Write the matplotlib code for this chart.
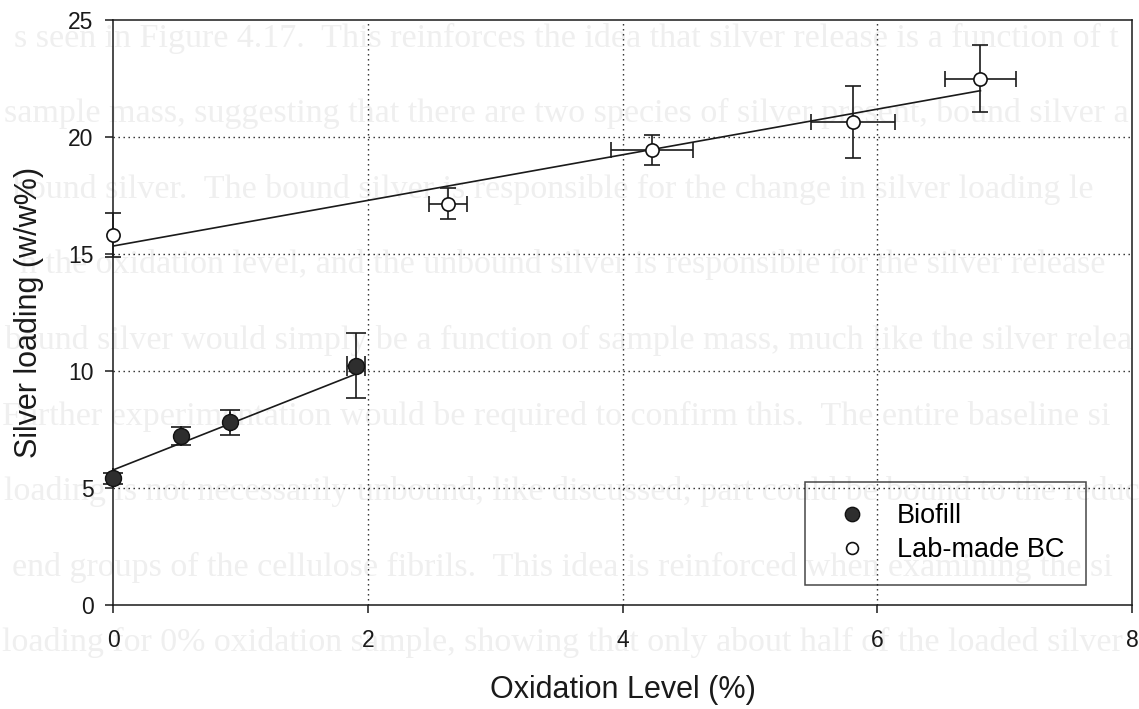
import numpy as np
import matplotlib
matplotlib.use('Agg')
import matplotlib.pyplot as plt

# Biofill (filled circles)
bio_x = [0.0, 0.53, 0.92, 1.91]
bio_y = [5.41, 7.22, 7.81, 10.23]
bio_yerr = [0.25, 0.38, 0.53, 1.39]
bio_xerr = [0.0, 0.0, 0.0, 0.07]
bio_fit = (2.15, 5.77)  # slope, intercept

# Lab-made BC (open circles)
lab_x = [0.0, 2.63, 4.23, 5.81, 6.81]
lab_y = [15.81, 17.14, 19.44, 20.63, 22.50]
lab_yerr = [0.95, 0.66, 0.63, 1.53, 1.42]
lab_xerr = [0.0, 0.15, 0.32, 0.33, 0.28]
lab_fit = (0.975, 15.34)

xticks = [0, 2, 4, 6, 8]
yticks = [0, 5, 10, 15, 20, 25]

# faint text showing through from the other side of the scanned page
ghost_lines = [
    "s seen in Figure 4.17.  This reinforces the idea that silver release is a function of t",
    "sample mass, suggesting that there are two species of silver present, bound silver a",
    "bound silver.  The bound silver is responsible for the change in silver loading le",
    "h the oxidation level, and the unbound silver is responsible for the silver release",
    "bound silver would simply be a function of sample mass, much like the silver relea",
    "Further experimentation would be required to confirm this.  The entire baseline si",
    "loading is not necessarily unbound, like discussed; part could be bound to the reduc",
    "end groups of the cellulose fibrils.  This idea is reinforced when examining the si",
    "loading for 0% oxidation sample, showing that only about half of the loaded silver",
]
ghost_x = [14, 4, 12, 20, 4, 2, 4, 12, 2]

plt.rcParams['font.family'] = ['Liberation Sans', 'DejaVu Sans']

fig = plt.figure(figsize=(11.39, 7.09), dpi=100)
ax = fig.add_axes([113 / 1139, 1 - 605 / 709, 1019 / 1139, 585 / 709])
ax.set_facecolor('none')

for i, line in enumerate(ghost_lines):
    fig.text(ghost_x[i] / 1139, 1 - (38 + 75.6 * i) / 709, line,
             family='Liberation Serif', fontsize=24.5, color='#efefef',
             va='center', ha='left', zorder=-10)

# fit lines
xb = np.array([0, max(bio_x)])
ax.plot(xb, bio_fit[0] * xb + bio_fit[1], color='#1a1a1a', lw=1.2, zorder=2)
xl = np.array([0, max(lab_x)])
ax.plot(xl, lab_fit[0] * xl + lab_fit[1], color='#1a1a1a', lw=1.2, zorder=2)

# error bars
eb1 = ax.errorbar(bio_x, bio_y, yerr=bio_yerr, xerr=bio_xerr, fmt='none',
                  ecolor='#1a1a1a', elinewidth=1.2, capsize=7, capthick=1.2,
                  zorder=3)
eb2 = ax.errorbar(lab_x, lab_y, yerr=lab_yerr, xerr=lab_xerr, fmt='none',
                  ecolor='#1a1a1a', elinewidth=1.2, capsize=6, capthick=1.2,
                  zorder=3)
for eb in (eb1, eb2):
    for art in eb.lines[1] + eb.lines[2]:
        art.set_clip_on(False)

# markers
ax.plot(bio_x, bio_y, 'o', ms=11.5, mfc='#2e2e2e', mec='#111111', mew=1.0,
        linestyle='none', label='Biofill', zorder=4, clip_on=False)
ax.plot(lab_x, lab_y, 'o', ms=9.5, mfc='white', mec='#111111', mew=1.2,
        linestyle='none', label='Lab-made BC', zorder=4, clip_on=False)

ax.set_xlim(0, 8)
ax.set_ylim(0, 25)
ax.set_xticks(xticks)
ax.set_yticks(yticks)
ax.tick_params(direction='out', length=6, width=1.1, labelsize=16.5,
               colors='#1a1a1a')
ax.tick_params(axis='x', pad=11)
ax.tick_params(axis='y', pad=8)
ax.tick_params(top=False, right=False)
for s in ax.spines.values():
    s.set_linewidth(1.1)
    s.set_color('#1a1a1a')

ax.grid(True, color='#222222', linestyle=(0, (1, 2.6)), linewidth=1.0)
# hide grid lines that fall on the frame
for gl in ax.get_xgridlines()[0::4]:
    gl.set_visible(False)
for gl in [ax.get_ygridlines()[0], ax.get_ygridlines()[-1]]:
    gl.set_visible(False)

ax.set_xlabel('Oxidation Level (%)', fontsize=22, labelpad=17, color='#1a1a1a')
ax.set_ylabel('Silver loading (w/w%)', fontsize=22, labelpad=17, color='#1a1a1a')

leg = ax.legend(loc='lower right', bbox_to_anchor=(0.955, 0.034),
                borderaxespad=0, fontsize=19.5, frameon=True, fancybox=False,
                edgecolor='#1a1a1a', facecolor='none', markerscale=0.9,
                handlelength=1.85, handletextpad=0.75, borderpad=0.8,
                labelspacing=0.3)
leg.get_frame().set_linewidth(1.1)

fig.savefig('out.png', dpi=100)
